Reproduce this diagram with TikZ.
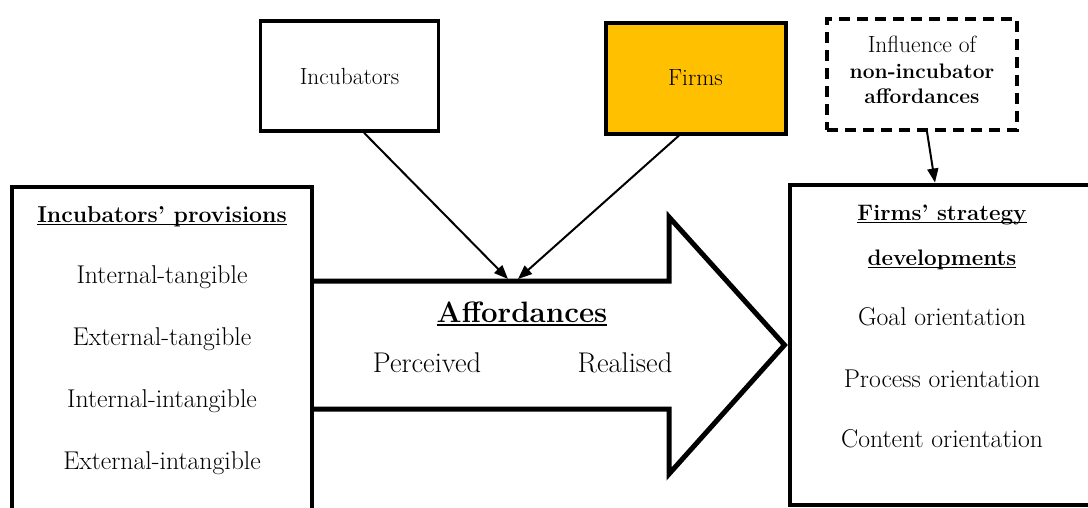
\documentclass[tikz,border=0pt]{standalone}
\usepackage{fontspec}
\usetikzlibrary{arrows.meta}
\definecolor{firmgold}{HTML}{FFC000}
% underline drawn as a rule just below the baseline
\newcommand\undl[1]{\leavevmode\setbox0\hbox{#1}\rlap{\rule[-0.15em]{\wd0}{0.07em}}\box0}
\begin{document}
\begin{tikzpicture}[x=1pt,y=-1pt,
  framebox/.style={draw=black, line width=4pt, inner sep=0pt, rectangle},
  smallbox/.style={draw=black, line width=3.5pt, inner sep=0pt, rectangle,
    font=\fontsize{23.4}{28}\selectfont},
  txt/.style={anchor=base, inner sep=0pt, font=\fontsize{25.7}{30}\selectfont},
  head/.style={anchor=base, inner sep=0pt, font=\fontsize{23}{28}\selectfont\bfseries},
  link/.style={line width=2pt, -{Triangle[length=14pt,width=11pt]}},
  bigarrow/.style={draw=black, line width=5pt, line join=miter, miter limit=20}
]
\useasboundingbox (0,0) rectangle (1088,507);
\clip (0,0) rectangle (1088,507);

% Source boxes
\node[smallbox, minimum width=178pt, minimum height=110pt] (inc) at (349.5,76) {Incubators};
\node[smallbox, line width=4pt, fill=firmgold, minimum width=180pt, minimum height=111pt] (firms) at (695.5,78) {Firms};
\node[draw=black, line width=3.5pt, dash pattern=on 11pt off 7pt, inner sep=0pt,
      minimum width=190pt, minimum height=111pt] (infl) at (922,74.5) {};
\node[anchor=base, inner sep=0pt, font=\fontsize{23.5}{28}\selectfont] (infl1) at (922,52) {Influence of};
\node[anchor=base, inner sep=0pt, font=\fontsize{21}{25}\selectfont\bfseries] (infl2) at (922,78) {non-incubator};
\node[anchor=base, inner sep=0pt, font=\fontsize{21}{25}\selectfont\bfseries] (infl3) at (922,103) {affordances};

% Left and right panels
\node[framebox, minimum width=299.5pt, minimum height=353pt] (prov) at (161.75,363.5) {};
\node[framebox, minimum width=320pt, minimum height=320pt] (strat) at (949.5,344.5) {};

\node[head] (provh) at (162,222) {\undl{Incubators’ provisions}};
\node[txt] (p1) at (162,283) {Internal-tangible};
\node[txt] (p2) at (162,345) {External-tangible};
\node[txt] (p3) at (162,407) {Internal-intangible};
\node[txt] (p4) at (162,469) {External-intangible};

\node[head, font=\fontsize{22.4}{27}\selectfont\bfseries] (strath1) at (942,220) {\undl{Firms’ strategy}};
\node[head, font=\fontsize{22.4}{27}\selectfont\bfseries] (strath2) at (942,265) {\undl{developments}};
\node[txt] (s1) at (942,325) {Goal orientation};
\node[txt] (s2) at (942,387) {Process orientation};
\node[txt] (s3) at (942,447) {Content orientation};

% Affordances block arrow between the panels
\coordinate (shaftL1) at (prov.east |- 0,281);
\coordinate (shaftL2) at (prov.east |- 0,409);
\coordinate (tip) at (strat.west |- 0,345);
\draw[bigarrow] (shaftL1) -- (669,281) -- (669,217) -- ([xshift=-3pt]tip)
  -- (669,474) -- (669,409) -- (shaftL2);

\node[anchor=base, inner sep=0pt, font=\fontsize{29.5}{35}\selectfont\bfseries] (aff) at (522,322) {\undl{Affordances}};
\node[anchor=base, inner sep=0pt, font=\fontsize{28.5}{34}\selectfont] (perc) at (427,372) {Perceived};
\node[anchor=base, inner sep=0pt, font=\fontsize{28.5}{34}\selectfont] (real) at (625,372) {Realised};

% Connectors
\coordinate (affin1) at (508,279);
\coordinate (affin2) at (518,279);
\draw[link] ([xshift=14.5pt]inc.south) -- (affin1);
\draw[link] ([xshift=-16.5pt]firms.south) -- (affin2);
\draw[link] ([xshift=5pt]infl.south) -- ([xshift=-14.5pt]strat.north);
\end{tikzpicture}
\end{document}
